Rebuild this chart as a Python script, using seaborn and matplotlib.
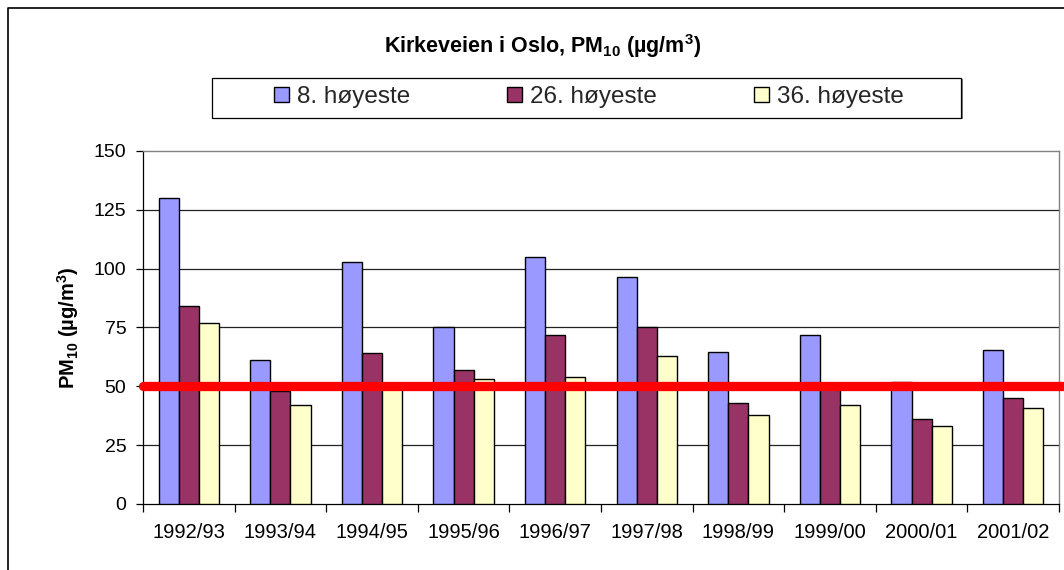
import numpy as np
import pandas as pd
import matplotlib
matplotlib.use("Agg")
import matplotlib.pyplot as plt
import seaborn as sns
from matplotlib.patches import Rectangle, Patch
from matplotlib.lines import Line2D
from matplotlib.ticker import FixedLocator

# Winter seasons and PM10 concentrations (µg/m³)
seasons = ["1992/93", "1993/94", "1994/95", "1995/96", "1996/97",
           "1997/98", "1998/99", "1999/00", "2000/01", "2001/02"]
series_names = ["8. høyeste", "26. høyeste", "36. høyeste"]
hoyeste_8 = [130, 61, 103, 75, 105, 96.5, 64.5, 72, 52, 65.5]
hoyeste_26 = [84, 48, 64, 57, 72, 75, 43, 49, 36, 45]
hoyeste_36 = [77, 42, 49, 53, 54, 63, 38, 42, 33, 41]
limit_value = 50
y_ticks = [0, 25, 50, 75, 100, 125, 150]
colors = ["#9999FF", "#993366", "#FFFFCC"]

sns.set_theme(style="white")
plt.rcParams["font.family"] = ["Liberation Sans", "DejaVu Sans"]
plt.rcParams["mathtext.fontset"] = "custom"
plt.rcParams["mathtext.rm"] = "Liberation Sans"
plt.rcParams["mathtext.it"] = "Liberation Sans:italic"
plt.rcParams["mathtext.bf"] = "Liberation Sans:bold"

df = pd.DataFrame({
    "season": seasons * 3,
    "serie": np.repeat(series_names, len(seasons)),
    "verdi": hoyeste_8 + hoyeste_26 + hoyeste_36,
})

W, H = 1064, 570
fig = plt.figure(figsize=(W / 100, H / 100), dpi=100)
fig.patch.set_facecolor("white")

left, right, top, bottom = 143, 1059, 151, 504
ax = fig.add_axes([left / W, 1 - bottom / H, (right - left) / W, (bottom - top) / H])

sns.barplot(data=df, x="season", y="verdi", hue="serie",
            order=seasons, hue_order=series_names, palette=colors,
            width=0.66, saturation=1, edgecolor="black", linewidth=1.0,
            errorbar=None, legend=False, ax=ax, zorder=3)

# y axis
ax.set_ylim(y_ticks[0], y_ticks[-1])
ax.set_yticks(y_ticks)
ax.yaxis.grid(True, color="#222222", linewidth=0.9)
ax.xaxis.grid(False)
ax.set_axisbelow(True)
for t in (ax.yaxis.get_major_ticks()[0], ax.yaxis.get_major_ticks()[-1]):
    t.gridline.set_visible(False)
ax.tick_params(axis="y", left=True, direction="out", length=5, width=0.9,
               color="black", pad=7, labelsize=14, labelcolor="black")

# x axis: labels centred, tick marks on category boundaries
ax.set_xlim(-0.5, len(seasons) - 0.5)
ax.tick_params(axis="x", which="major", bottom=False, length=0, pad=14,
               labelsize=14.5, labelcolor="black")
ax.xaxis.set_minor_locator(FixedLocator(np.arange(-0.5, len(seasons), 1.0)))
ax.tick_params(axis="x", which="minor", bottom=True, direction="out",
               length=6, width=0.9, color="black")

for side in ("left", "bottom"):
    ax.spines[side].set_color("black")
    ax.spines[side].set_linewidth(0.9)
for side in ("top", "right"):
    ax.spines[side].set_color("#808080")
    ax.spines[side].set_linewidth(1.0)

ax.set_xlabel("")
ax.set_ylabel(r"PM$_{\mathbf{10}}$ (µg/m$^{\mathbf{3}}$)", fontsize=14.5,
              fontweight="bold", color="black")
ax.yaxis.set_label_coords(-0.068, 0.5)

# limit value line
ax.axhline(limit_value, xmin=0, xmax=(W - left) / (right - left) + 0.02,
           color="#FF0000", linewidth=6.7, solid_capstyle="round",
           clip_on=False, zorder=6)

# title
fig.text(543 / W, 1 - 46 / H, r"Kirkeveien i Oslo, PM$_{\mathbf{10}}$ (µg/m$^{\mathbf{3}}$)",
         ha="center", va="center", fontsize=15.5, fontweight="bold", color="black")

# legend box
lx0, lx1, ly0, ly1 = 212, 961, 77.7, 117.7
shadow = Rectangle(((lx0 + 1.5) / W, 1 - (ly1 + 1.5) / H), (lx1 - lx0) / W, (ly1 - ly0) / H,
                   transform=fig.transFigure, facecolor="#808080", edgecolor="none", zorder=1)
frame = Rectangle((lx0 / W, 1 - ly1 / H), (lx1 - lx0) / W, (ly1 - ly0) / H,
                  transform=fig.transFigure, facecolor="white", edgecolor="black",
                  linewidth=0.9, zorder=2)
fig.add_artist(shadow)
fig.add_artist(frame)
handles = [Patch(facecolor=c, edgecolor="black", linewidth=1.0) for c in colors]
leg = fig.legend(handles, series_names, loc="center", bbox_to_anchor=(589 / W, 1 - 97 / H),
                 ncol=3, frameon=False, fontsize=17.5, handlelength=0.6, handleheight=0.6,
                 handletextpad=0.34, columnspacing=4.0)
leg.set_zorder(3)

# outer chart border
fig.add_artist(Line2D([8 / W, 8 / W, 1.01], [-0.01, 1 - 8 / H, 1 - 8 / H],
                      transform=fig.transFigure, color="black", linewidth=1.2))

fig.savefig("out.png", dpi=100, facecolor="white")
